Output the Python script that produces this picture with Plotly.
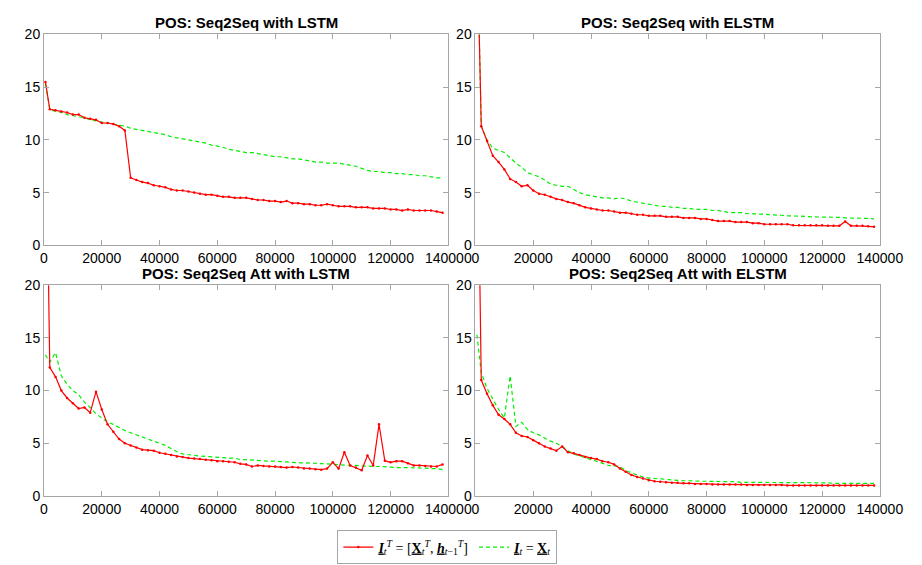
import plotly.graph_objects as go

# iteration grid (x values shared by all series)
iters = [500] + list(range(2000, 140000, 2000))

titles = ["POS: Seq2Seq with LSTM", "POS: Seq2Seq with ELSTM",
          "POS: Seq2Seq Att with LSTM", "POS: Seq2Seq Att with ELSTM"]

# Panel 1: Seq2Seq with LSTM
lstm_red = [15.5, 12.9, 12.8, 12.7, 12.6, 12.4, 12.4, 12.1, 12.0, 11.9,
            11.6, 11.6, 11.5, 11.3, 10.9, 6.4, 6.2, 6.0, 5.9, 5.7,
            5.6, 5.5, 5.3, 5.2, 5.2, 5.1, 5.0, 4.9, 4.8, 4.8,
            4.7, 4.6, 4.6, 4.5, 4.5, 4.5, 4.4, 4.3, 4.3, 4.2,
            4.2, 4.1, 4.2, 4.0, 4.0, 3.9, 3.9, 3.8, 3.8, 3.9,
            3.8, 3.7, 3.7, 3.7, 3.6, 3.6, 3.6, 3.5, 3.5, 3.5,
            3.4, 3.4, 3.3, 3.4, 3.3, 3.3, 3.3, 3.3, 3.2, 3.1]
lstm_green = [15.3, 12.9, 12.7, 12.6, 12.4, 12.3, 12.2, 12.1, 11.9, 11.8,
              11.7, 11.6, 11.5, 11.4, 11.3, 11.1, 11.0, 10.9, 10.8, 10.7,
              10.6, 10.5, 10.3, 10.2, 10.1, 10.0, 9.9, 9.8, 9.7, 9.5,
              9.4, 9.3, 9.1, 9.0, 8.9, 8.8, 8.8, 8.7, 8.6, 8.5,
              8.4, 8.4, 8.3, 8.2, 8.2, 8.1, 8.0, 7.9, 7.9, 7.8,
              7.8, 7.8, 7.7, 7.6, 7.5, 7.3, 7.1, 7.0, 7.0, 6.9,
              6.9, 6.8, 6.8, 6.7, 6.7, 6.6, 6.6, 6.5, 6.4, 6.4]

# Panel 2: Seq2Seq with ELSTM
elstm_red = [30, 11.3, 9.9, 8.5, 7.9, 7.2, 6.3, 6.0, 5.6, 5.7,
             5.2, 4.9, 4.8, 4.6, 4.4, 4.3, 4.1, 4.0, 3.8, 3.6,
             3.5, 3.4, 3.3, 3.3, 3.2, 3.1, 3.1, 3.0, 2.9, 2.9,
             2.8, 2.8, 2.8, 2.7, 2.7, 2.7, 2.6, 2.6, 2.6, 2.5,
             2.5, 2.4, 2.3, 2.3, 2.3, 2.2, 2.2, 2.2, 2.1, 2.1,
             2.0, 2.0, 2.0, 2.0, 2.0, 1.9, 1.9, 1.9, 1.9, 1.9,
             1.9, 1.85, 1.85, 1.85, 2.25, 1.85, 1.85, 1.85, 1.8, 1.75]
elstm_green = [30, 11.3, 10.0, 9.2, 9.0, 8.8, 8.3, 7.8, 7.4, 6.9,
               6.7, 6.5, 6.2, 5.8, 5.7, 5.6, 5.6, 5.3, 5.0, 4.8,
               4.7, 4.6, 4.5, 4.5, 4.4, 4.5, 4.4, 4.2, 4.1, 4.0,
               3.9, 3.8, 3.7, 3.7, 3.6, 3.6, 3.5, 3.5, 3.4, 3.4,
               3.4, 3.3, 3.3, 3.2, 3.1, 3.1, 3.1, 3.0, 3.0, 3.0,
               2.95, 2.9, 2.9, 2.85, 2.8, 2.8, 2.75, 2.75, 2.7, 2.7,
               2.7, 2.65, 2.65, 2.65, 2.6, 2.6, 2.6, 2.6, 2.55, 2.5]

# Panel 3: Seq2Seq Att with LSTM
att_lstm_red = [40, 12.2, 11.3, 10.0, 9.3, 8.8, 8.3, 8.4, 7.9, 9.9,
                8.2, 6.8, 6.1, 5.4, 5.0, 4.8, 4.6, 4.4, 4.35, 4.3,
                4.1, 4.0, 3.9, 3.75, 3.7, 3.6, 3.55, 3.5, 3.45, 3.4,
                3.3, 3.3, 3.25, 3.2, 3.05, 3.0, 2.8, 2.9, 2.85, 2.8,
                2.8, 2.75, 2.7, 2.75, 2.7, 2.6, 2.6, 2.55, 2.5, 2.6,
                3.2, 2.6, 4.15, 2.9, 2.7, 2.45, 3.85, 2.9, 6.8, 3.35,
                3.2, 3.3, 3.3, 3.1, 2.9, 2.9, 2.85, 2.8, 2.8, 3.0]
att_lstm_green = [13.4, 12.7, 13.6, 11.4, 10.6, 10.0, 9.6, 8.9, 8.4, 7.8,
                  7.4, 7.0, 6.8, 6.5, 6.2, 6.0, 5.8, 5.6, 5.4, 5.2,
                  5.0, 4.8, 4.5, 4.2, 4.0, 3.9, 3.85, 3.8, 3.75, 3.75,
                  3.7, 3.65, 3.6, 3.6, 3.45, 3.45, 3.4, 3.4, 3.35, 3.3,
                  3.3, 3.25, 3.2, 3.2, 3.15, 3.15, 3.1, 3.1, 3.07, 3.05,
                  3.0, 3.0, 2.95, 2.9, 2.9, 2.85, 2.85, 2.8, 2.8, 2.75,
                  2.75, 2.7, 2.7, 2.7, 2.7, 2.65, 2.65, 2.6, 2.6, 2.5]

# Panel 4: Seq2Seq Att with ELSTM
att_elstm_red = [40, 11.0, 9.7, 8.6, 7.7, 7.3, 6.8, 6.0, 5.7, 5.6,
                 5.3, 5.0, 4.7, 4.5, 4.3, 4.7, 4.15, 4.05, 3.9, 3.7,
                 3.6, 3.5, 3.3, 3.2, 3.0, 2.6, 2.3, 2.0, 1.8, 1.65,
                 1.5, 1.4, 1.35, 1.3, 1.25, 1.25, 1.2, 1.2, 1.15, 1.15,
                 1.15, 1.1, 1.1, 1.1, 1.1, 1.1, 1.1, 1.05, 1.05, 1.05,
                 1.05, 1.05, 1.05, 1.05, 1.0, 1.0, 1.0, 1.0, 1.0, 1.0,
                 1.0, 1.0, 1.0, 1.0, 1.0, 1.0, 1.0, 1.0, 1.0, 1.0]
att_elstm_green = [15.3, 11.7, 10.2, 9.2, 8.2, 7.4, 11.4, 6.6, 7.0, 6.3,
                   6.0, 5.8, 5.5, 5.2, 5.0, 4.7, 4.3, 4.0, 3.8, 3.6,
                   3.45, 3.3, 3.1, 2.9, 2.85, 2.8, 2.4, 2.2, 1.95, 1.8,
                   1.7, 1.65, 1.6, 1.55, 1.5, 1.5, 1.45, 1.45, 1.4, 1.4,
                   1.4, 1.4, 1.35, 1.35, 1.35, 1.35, 1.3, 1.3, 1.3, 1.3,
                   1.3, 1.3, 1.3, 1.3, 1.25, 1.25, 1.25, 1.25, 1.25, 1.25,
                   1.25, 1.25, 1.2, 1.2, 1.2, 1.2, 1.2, 1.2, 1.2, 1.2]

x_ticks = [0, 20000, 40000, 60000, 80000, 100000, 120000, 140000]
y_ticks = [0, 5, 10, 15, 20]

red_name = ("<span style='text-decoration:underline'><b><i>I</i></b></span><sub><i>t</i></sub><sup><i>T</i></sup>"
            " = [<span style='text-decoration:underline'><b>X</b></span><sub><i>t</i></sub><sup><i>T</i></sup>, "
            "<span style='text-decoration:underline'><b><i>h</i></b></span><sub><i>t</i>−1</sub><sup><i>T</i></sup>]")
green_name = ("<span style='text-decoration:underline'><b><i>I</i></b></span><sub><i>t</i></sub>"
              " = <span style='text-decoration:underline'><b>X</b></span><sub><i>t</i></sub>")

panels = [(lstm_red, lstm_green), (elstm_red, elstm_green),
          (att_lstm_red, att_lstm_green), (att_elstm_red, att_elstm_green)]
for r, g in panels:
    assert len(r) == len(iters) and len(g) == len(iters)

W, H = 922, 565
xdoms = [(33 / W, 450 / W), (478 / W, 895 / W)]
ydoms = [(1 - 236 / H, 1 - 19 / H), (1 - 494 / H, 1 - 277 / H)]

fig = go.Figure()
layout = {}
annotations = []
for i, (r, g) in enumerate(panels):
    row, col = divmod(i, 2)
    sfx = "" if i == 0 else str(i + 1)
    xa, ya = "x" + sfx, "y" + sfx
    fig.add_trace(go.Scatter(x=iters, y=g, mode="lines", xaxis=xa, yaxis=ya,
                             line=dict(color="#00ee00", width=1.2, dash="4px,3px"),
                             name=green_name, showlegend=(i == 0), legendrank=2))
    fig.add_trace(go.Scatter(x=iters, y=r, mode="lines+markers", xaxis=xa, yaxis=ya,
                             line=dict(color="#ff0000", width=1.2),
                             marker=dict(color="#ff0000", size=2.5),
                             name=red_name, showlegend=(i == 0), legendrank=1))
    axis_common = dict(showline=True, linecolor="#a6a6a6", linewidth=1, mirror="ticks",
                       ticks="inside", ticklen=5, tickcolor="#a6a6a6", showgrid=False,
                       zeroline=False, tickfont=dict(family="Liberation Sans, Arial", size=14, color="#000"))
    layout["xaxis" + sfx] = dict(domain=list(xdoms[col]), range=[0, 140000], tickvals=x_ticks,
                                 ticktext=[str(v) for v in x_ticks], anchor=ya, **axis_common)
    layout["yaxis" + sfx] = dict(domain=list(ydoms[row]), range=[0, 20], tickvals=y_ticks,
                                 anchor=xa, **axis_common)
    annotations.append(dict(text="<b>" + titles[i] + "</b>", xref="paper", yref="paper",
                            x=(xdoms[col][0] + xdoms[col][1]) / 2, y=ydoms[row][1],
                            xanchor="center", yanchor="bottom", yshift=1, showarrow=False,
                            font=dict(family="Liberation Sans, Arial", size=15, color="#000")))

fig.update_layout(**layout)
fig.update_layout(
    width=W, height=H, margin=dict(l=0, r=0, t=0, b=0),
    paper_bgcolor="white", plot_bgcolor="white",
    annotations=annotations,
    showlegend=True,
    legend=dict(orientation="h", x=0.487, y=0.032, xanchor="center", yanchor="middle",
                bgcolor="white", bordercolor="#a6a6a6", borderwidth=1,
                font=dict(family="Liberation Serif, DejaVu Serif", size=14, color="#000"),
                itemwidth=30, tracegroupgap=0),
)
fig.write_html("out.html")
